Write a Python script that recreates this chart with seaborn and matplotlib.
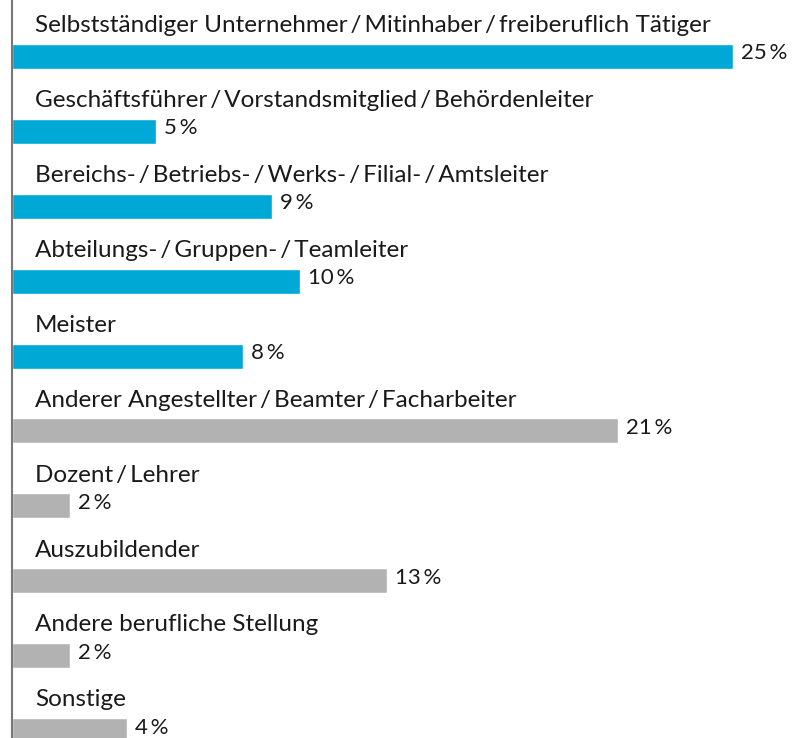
import pandas as pd
import matplotlib.pyplot as plt
import seaborn as sns

categories = [
    "Selbstständiger Unternehmer\u2009/\u2009Mitinhaber\u2009/\u2009freiberuflich Tätiger",
    "Geschäftsführer\u2009/\u2009Vorstandsmitglied\u2009/\u2009Behördenleiter",
    "Bereichs-\u2009/\u2009Betriebs-\u2009/\u2009Werks-\u2009/\u2009Filial-\u2009/\u2009Amtsleiter",
    "Abteilungs-\u2009/\u2009Gruppen-\u2009/\u2009Teamleiter",
    "Meister",
    "Anderer Angestellter\u2009/\u2009Beamter\u2009/\u2009Facharbeiter",
    "Dozent\u2009/\u2009Lehrer",
    "Auszubildender",
    "Andere berufliche Stellung",
    "Sonstige",
]
values = [25, 5, 9, 10, 8, 21, 2, 13, 2, 4]
groups = ["leitend"] * 5 + ["andere"] * 5

df = pd.DataFrame({"kategorie": categories, "wert": values, "gruppe": groups})

sns.set_style("white")
plt.rcParams["font.family"] = ["Lato", "DejaVu Sans"]

fig = plt.figure(figsize=(8.06, 7.38), dpi=100)
ax = fig.add_axes([12 / 806, 0, 1 - 12 / 806, 1])

sns.barplot(data=df, y="kategorie", x="wert", hue="gruppe", orient="h",
            palette={"leitend": "#00A8D6", "andere": "#B2B2B2"},
            width=0.334, dodge=False, legend=False, ax=ax, saturation=1)

ax.set_xlim(0, 794 / 28.84)
ax.set_ylim(9.099, -0.754)
ax.set_xlabel("")
ax.set_ylabel("")
ax.set_xticks([])
ax.set_yticks([])
for s in ["top", "right", "bottom"]:
    ax.spines[s].set_visible(False)
ax.spines["left"].set_color("#777777")
ax.spines["left"].set_linewidth(1.5)

for i, (cat, val) in enumerate(zip(categories, values)):
    ax.text(0.8, i - 0.41, cat, fontsize=17.5, color="#1a1a1a", va="center", ha="left")
    ax.text(val + 0.28, i - 0.04, f"{val}\u2009%", fontsize=16, color="#1a1a1a",
            va="center", ha="left")

fig.savefig("out.png", dpi=100)
